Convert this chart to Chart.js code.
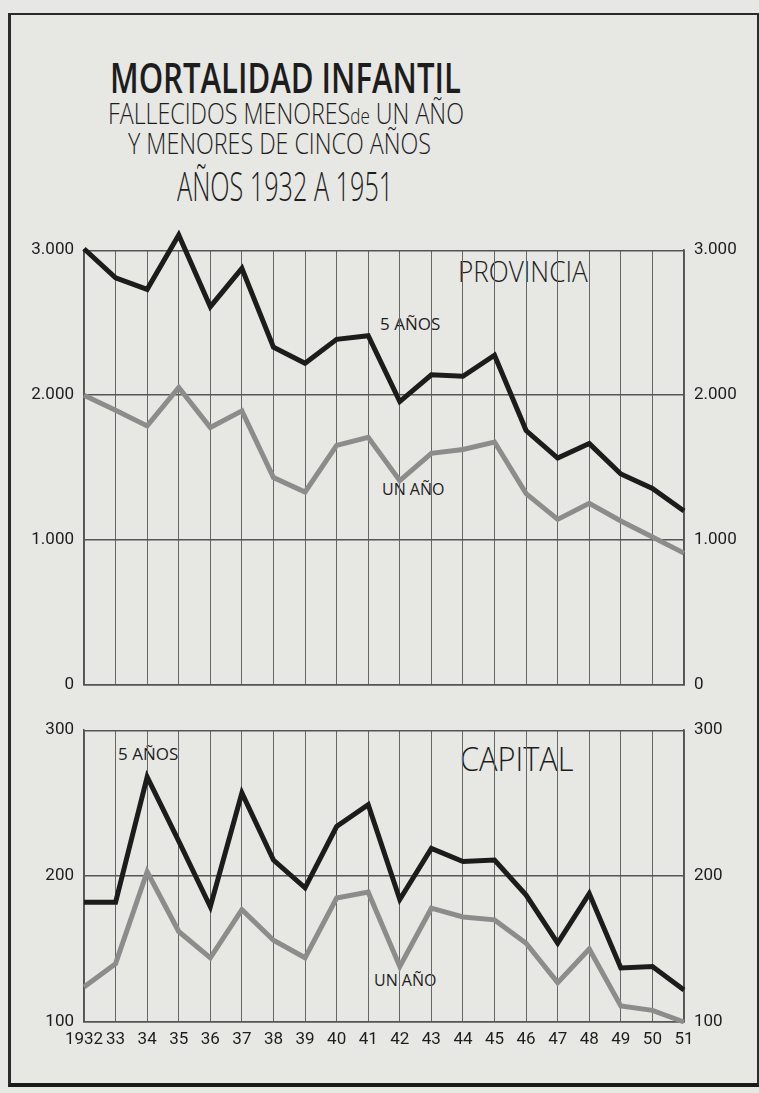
<!DOCTYPE html>
<html>
<head>
<meta charset="utf-8">
<script src="https://cdn.jsdelivr.net/npm/chart.js@4/dist/chart.umd.min.js"></script>
<style>
  html, body { margin: 0; padding: 0; }
  body { width: 759px; height: 1093px; background: #e7e7e4; position: relative; overflow: hidden; font-family: "Open Sans", sans-serif; color: #1d1d1d; }
  .frame { position: absolute; left: 8px; top: 13px; width: 746px; height: 1068px; border-top: 2px solid #2a2a2a; border-left: 3px solid #2a2a2a; border-bottom: 4px solid #1a1a1a; border-right: 2px solid #2a2a2a; }
  .txt { position: absolute; white-space: nowrap; line-height: 1; transform-origin: left top; }
  canvas { position: absolute; left: 0; }
</style>
</head>
<body>
<div class="frame"></div>

<div class="txt" style="left:110px; top:56px; font-size:42px; font-weight:600; transform:scaleX(0.74);">MORTALIDAD INFANTIL</div>
<div class="txt" style="left:108px; top:98px; font-size:30px; font-weight:300; transform:scaleX(0.775);">FALLECIDOS MENORES<span style="font-size:22px;">de</span> UN AÑO</div>
<div class="txt" style="left:128px; top:128px; font-size:30px; font-weight:300; transform:scaleX(0.775);">Y MENORES DE CINCO AÑOS</div>
<div class="txt" style="left:177px; top:166px; font-size:40px; font-weight:300; transform:scaleX(0.63);">AÑOS 1932 A 1951</div>

<div class="txt" style="left:458px; top:256px; font-size:29px; font-weight:300; transform:scaleX(0.9);">PROVINCIA</div>
<div class="txt" style="left:380px; top:315px; font-size:17px;">5 AÑOS</div>
<div class="txt" style="left:382px; top:481px; font-size:16px;">UN AÑO</div>

<div class="txt" style="left:460px; top:742px; font-size:33px; font-weight:300; transform:scaleX(0.93);">CAPITAL</div>
<div class="txt" style="left:118px; top:745px; font-size:17px;">5 AÑOS</div>
<div class="txt" style="left:374px; top:972px; font-size:16px;">UN AÑO</div>

<canvas id="provinciaChart" width="759" height="475" style="top:230px;"></canvas>
<canvas id="capitalChart" width="759" height="350" style="top:710px;"></canvas>

<script>
// años 1932 a 1951
let years = ['1932', '33', '34', '35', '36', '37', '38', '39', '40', '41',
             '42', '43', '44', '45', '46', '47', '48', '49', '50', '51'];

// Provincia
let provinciaCinco = [3010, 2810, 2730, 3105, 2610, 2875, 2330, 2220, 2385, 2410,
                      1955, 2140, 2130, 2275, 1755, 1565, 1665, 1455, 1355, 1200];
let provinciaUno = [1998, 1895, 1787, 2053, 1776, 1891, 1431, 1331, 1653, 1709,
                    1409, 1598, 1624, 1676, 1320, 1142, 1253, 1131, 1020, 909];
let provinciaTicks = [0, 1000, 2000, 3000];

// Capital
let capitalCinco = [182, 182, 268, 224, 179, 257, 211, 192, 234, 249,
                    184, 219, 210, 211, 187, 154, 188, 137, 138, 122];
let capitalUno = [124, 140, 203, 162, 144, 177, 156, 144, 185, 189,
                  138, 178, 172, 170, 154, 127, 150, 111, 108, 100];
let capitalTicks = [100, 200, 300];

let black = '#1c1c1c';
let gray = '#8c8c8c';
let gridColor = '#555555';
let tickFont = { family: "Roboto, sans-serif", size: 17 };

function fmt(v) {
    return v >= 1000 ? String(v).replace(/(\d)(\d{3})$/, '$1.$2') : String(v);
}

function yAxis(position, min, max, ticks, width) {
    return {
        position: position,
        min: min,
        max: max,
        afterBuildTicks: function (scale) {
            scale.ticks = ticks.map(function (v) { return { value: v }; });
        },
        afterFit: function (scale) { scale.width = width; },
        grid: {
            display: position === 'left',
            color: gridColor,
            lineWidth: 1.4,
            drawTicks: false
        },
        border: { display: true, color: gridColor, width: 1.6 },
        ticks: {
            color: '#1d1d1d',
            font: tickFont,
            padding: 10,
            callback: function (v) { return fmt(v); }
        }
    };
}

function lineSet(label, data, color) {
    return {
        label: label,
        data: data,
        borderColor: color,
        backgroundColor: color,
        borderWidth: 5,
        pointRadius: 0,
        borderJoinStyle: 'miter',
        tension: 0,
        clip: false
    };
}

let ctxProvincia = document.getElementById('provinciaChart').getContext('2d');

let provinciaChart = new Chart(ctxProvincia, {
    type: 'line',
    data: {
        labels: years,
        datasets: [
            lineSet('Un año', provinciaUno, gray),
            lineSet('5 años', provinciaCinco, black)
        ]
    },
    options: {
        responsive: false,
        devicePixelRatio: 1,
        animation: false,
        layout: { padding: { top: 13, bottom: 12, left: 0, right: 0 } },
        plugins: { legend: { display: false }, tooltip: { enabled: false } },
        scales: {
            x: {
                offset: false,
                afterFit: function (scale) { scale.height = 0; },
                grid: { color: '#666666', lineWidth: 1, drawTicks: false },
                border: { display: true, color: gridColor, width: 1.6 },
                ticks: { display: false }
            },
            y: yAxis('left', 0, 3000, provinciaTicks, 84),
            y2: yAxis('right', 0, 3000, provinciaTicks, 75)
        }
    }
});

let ctxCapital = document.getElementById('capitalChart').getContext('2d');

let capitalChart = new Chart(ctxCapital, {
    type: 'line',
    data: {
        labels: years,
        datasets: [
            lineSet('Un año', capitalUno, gray),
            lineSet('5 años', capitalCinco, black)
        ]
    },
    options: {
        responsive: false,
        devicePixelRatio: 1,
        animation: false,
        layout: { padding: { top: 13, bottom: 0, left: 0, right: 0 } },
        plugins: { legend: { display: false }, tooltip: { enabled: false } },
        scales: {
            x: {
                offset: false,
                afterFit: function (scale) { scale.height = 38; },
                grid: { color: '#666666', lineWidth: 1, drawTicks: false },
                border: { display: true, color: gridColor, width: 1.6 },
                ticks: {
                    color: '#1d1d1d',
                    font: { family: tickFont.family, size: 17 },
                    padding: 8,
                    maxRotation: 0,
                    autoSkip: false
                }
            },
            y: yAxis('left', 100, 300, capitalTicks, 84),
            y2: yAxis('right', 100, 300, capitalTicks, 75)
        }
    }
});
</script>
</body>
</html>
